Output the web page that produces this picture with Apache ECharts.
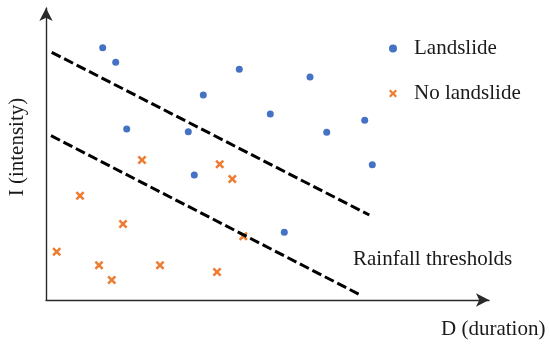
<!DOCTYPE html>
<html>
<head>
<meta charset="utf-8">
<script src="https://cdn.jsdelivr.net/npm/echarts@6/dist/echarts.min.js"></script>
<style>
html,body{margin:0;padding:0;background:#fff;}
#chart{width:550px;height:347px;}
</style>
</head>
<body>
<div id="chart"></div>
<script>
// Conceptual chart: D (duration) on x, I (intensity) on y, arbitrary units
const xRange = [0, 443];
const yRange = [0, 292];

const landslide = [
  [56.7, 252.3], [69.7, 237.7], [193.3, 230.7], [157.3, 205], [224.3, 186],
  [80.7, 171], [142.3, 168.3], [264, 223], [280.7, 167.7], [318.7, 179.7],
  [326.3, 135.3], [148.3, 125], [238.3, 67.7]
];
const noLandslide = [
  [96, 140], [173.7, 135.7], [186.3, 121], [34, 104.3], [77, 76],
  [197.3, 63.7], [10.7, 48.3], [53, 34.7], [114, 34.7], [65.7, 20], [171, 28]
];
const upperThreshold = [[5.7, 247.7], [323.3, 85]];
const lowerThreshold = [[5, 164.3], [315.7, 4.3]];

const seriesNames = ['Landslide', 'No landslide'];
const thresholdLabel = 'Rainfall thresholds';
const xName = 'D (duration)';
const yName = 'I (intensity)';

const FONT = '"Liberation Serif", "Times New Roman", serif';
const X_PATH = 'path://M0,2 L2,0 L5,3 L8,0 L10,2 L7,5 L10,8 L8,10 L5,7 L2,10 L0,8 L3,5 Z';

const chart = echarts.init(document.getElementById('chart'), null, {renderer: 'canvas'});
chart.setOption({
  animation: false,
  backgroundColor: '#ffffff',
  grid: {left: 46, right: 61, top: 8, bottom: 47, containLabel: false},
  xAxis: {
    type: 'value', min: xRange[0], max: xRange[1],
    axisLine: {show: true, symbol: ['none', 'arrow'], symbolSize: [10, 13],
      lineStyle: {color: '#2a2a2a', width: 1.4}},
    axisTick: {show: false}, axisLabel: {show: false}, splitLine: {show: false}
  },
  yAxis: {
    type: 'value', min: yRange[0], max: yRange[1],
    axisLine: {show: true, onZero: false, symbol: ['none', 'arrow'], symbolSize: [10, 13],
      lineStyle: {color: '#2a2a2a', width: 1.4}},
    axisTick: {show: false}, axisLabel: {show: false}, splitLine: {show: false}
  },
  legend: {
    orient: 'vertical', left: 384, top: 33,
    itemWidth: 32, itemHeight: 8, itemGap: 24,
    data: [{name: seriesNames[0], icon: 'circle'}, {name: seriesNames[1], icon: X_PATH}],
    textStyle: {fontFamily: FONT, fontSize: 21, color: '#1a1a1a'}
  },
  series: [
    {name: seriesNames[0], type: 'scatter', data: landslide, symbol: 'circle', symbolSize: 7,
      itemStyle: {color: '#4472C4', opacity: 1}},
    {name: seriesNames[1], type: 'scatter', data: noLandslide, symbol: X_PATH, symbolSize: 9,
      itemStyle: {color: '#ED7D31', opacity: 1}},
    {name: 'upper', type: 'line', data: upperThreshold, symbol: 'none', silent: true,
      lineStyle: {color: '#000', width: 3, type: [10, 4]}},
    {name: 'lower', type: 'line', data: lowerThreshold, symbol: 'none', silent: true,
      lineStyle: {color: '#000', width: 3, type: [10, 4]}}
  ],
  graphic: [
    {type: 'text', x: 353, y: 259, style: {text: thresholdLabel, font: '21px ' + FONT, fill: '#1a1a1a', verticalAlign: 'middle', align: 'left'}},
    {type: 'text', x: 441, y: 329, style: {text: xName, font: '21px ' + FONT, fill: '#1a1a1a', verticalAlign: 'middle', align: 'left'}},
    {type: 'text', x: 17, y: 147, rotation: Math.PI / 2, style: {text: yName, font: '21px ' + FONT, fill: '#1a1a1a', verticalAlign: 'middle', align: 'center'}}
  ]
});
</script>
</body>
</html>
